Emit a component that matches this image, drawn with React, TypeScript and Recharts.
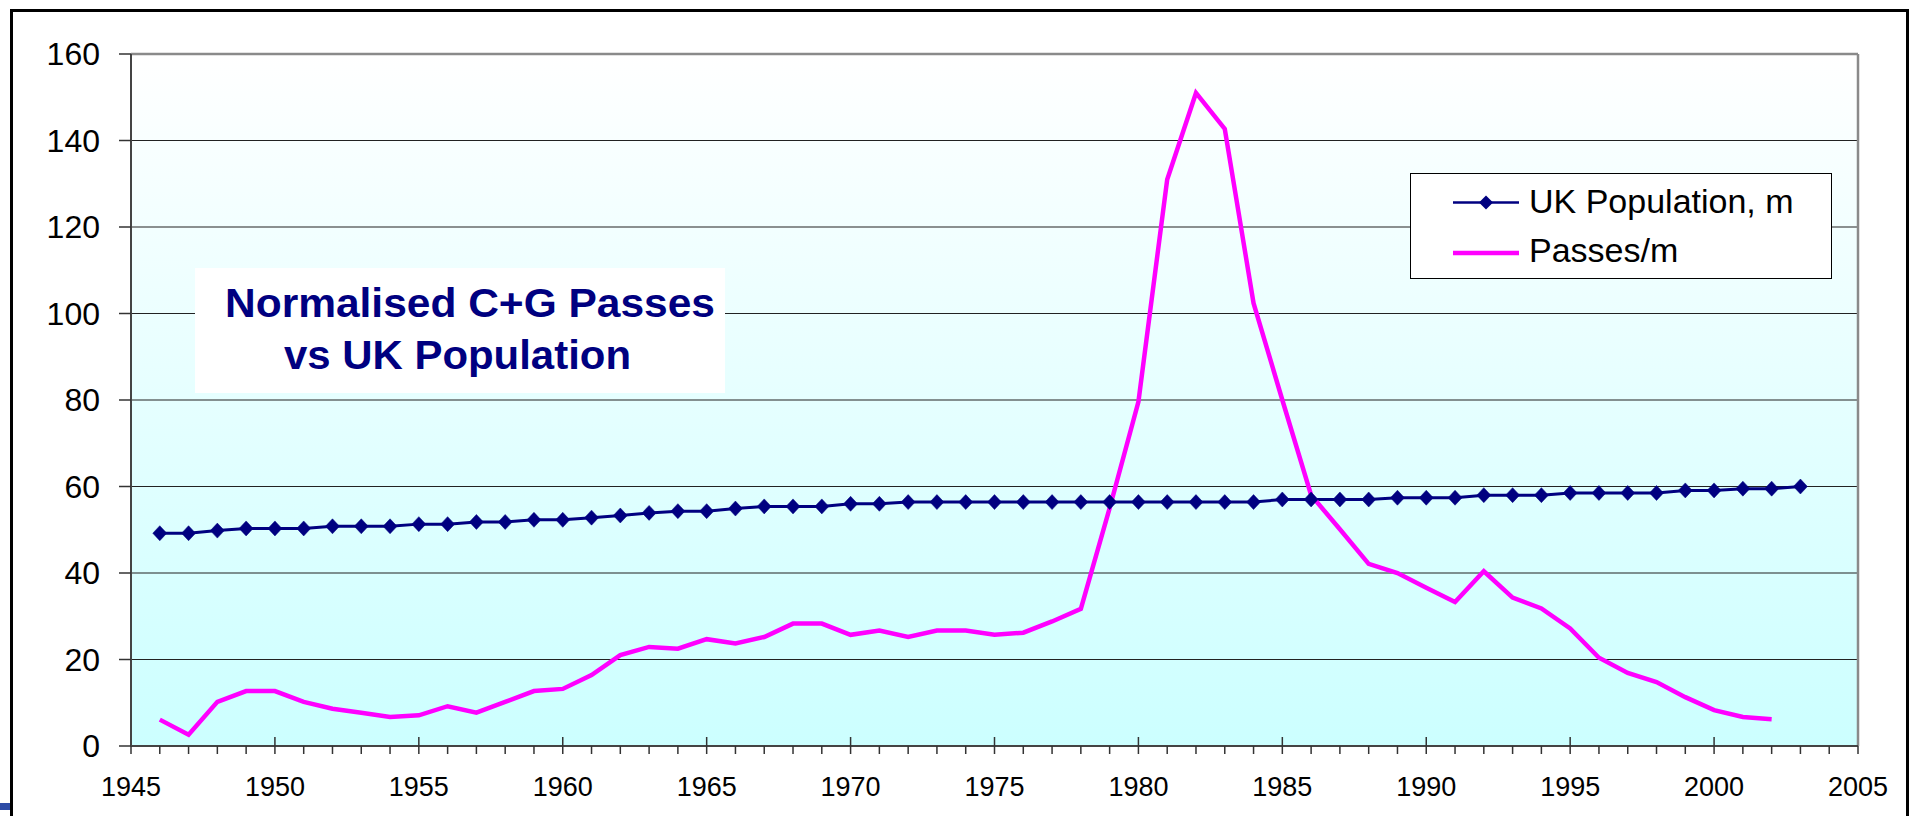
import React from "react";
import {
  LineChart, Line, XAxis, YAxis, CartesianGrid, ReferenceLine,
} from "recharts";

const YEARS = [
  1946, 1947, 1948, 1949, 1950, 1951, 1952, 1953, 1954, 1955,
  1956, 1957, 1958, 1959, 1960, 1961, 1962, 1963, 1964, 1965,
  1966, 1967, 1968, 1969, 1970, 1971, 1972, 1973, 1974, 1975,
  1976, 1977, 1978, 1979, 1980, 1981, 1982, 1983, 1984, 1985,
  1986, 1987, 1988, 1989, 1990, 1991, 1992, 1993, 1994, 1995,
  1996, 1997, 1998, 1999, 2000, 2001, 2002, 2003,
];

// UK population, millions
const POPULATION = [
  49.2, 49.2, 49.8, 50.3, 50.3, 50.3, 50.8, 50.8, 50.8, 51.3,
  51.3, 51.8, 51.8, 52.3, 52.3, 52.8, 53.3, 53.9, 54.3, 54.3,
  54.9, 55.4, 55.4, 55.4, 56.0, 56.0, 56.4, 56.4, 56.4, 56.4,
  56.4, 56.4, 56.4, 56.4, 56.4, 56.4, 56.4, 56.4, 56.4, 57.0,
  57.0, 57.0, 57.0, 57.4, 57.4, 57.4, 58.0, 58.0, 58.0, 58.5,
  58.5, 58.5, 58.5, 59.1, 59.1, 59.5, 59.5, 60.0,
];

// C+G passes per million of population (no figure for 2003)
const PASSES_PER_M = [
  6.1, 2.6, 10.2, 12.7, 12.7, 10.2, 8.6, 7.7, 6.7, 7.1,
  9.2, 7.7, 10.2, 12.7, 13.2, 16.4, 21.0, 22.9, 22.5, 24.7,
  23.7, 25.2, 28.3, 28.3, 25.7, 26.7, 25.2, 26.7, 26.7, 25.7,
  26.2, 28.8, 31.7, 55.0, 79.6, 131.0, 151.0, 142.7, 102.4, 80.0,
  58.0, 50.1, 42.1, 40.0, 36.6, 33.3, 40.4, 34.3, 31.8, 27.2,
  20.4, 16.9, 14.8, 11.3, 8.3, 6.7, 6.2, null,
];

const X_LABEL_TICKS = [1945, 1950, 1955, 1960, 1965, 1970, 1975, 1980, 1985, 1990, 1995, 2000, 2005];
const Y_TICKS = [0, 20, 40, 60, 80, 100, 120, 140, 160];

const SERIES_NAMES = ["UK Population, m", "Passes/m"];
const TITLE_LINES = ["Normalised C+G Passes", "vs UK Population"];

const NAVY = "#000080";
const MAGENTA = "#FF00FF";
const FONT = "'Liberation Sans', Arial, Helvetica, sans-serif";

const rows = YEARS.map((year, i) => ({
  year,
  pop: POPULATION[i],
  passes: PASSES_PER_M[i],
}));

// one tick per year; labels only on the 5-year ones
const allYearTicks: number[] = [];
for (let y = X_LABEL_TICKS[0]; y <= X_LABEL_TICKS[X_LABEL_TICKS.length - 1]; y++) allYearTicks.push(y);

const YearTick = (props: any) => {
  const { x, y, payload } = props;
  const yr = payload.value as number;
  const labelled = X_LABEL_TICKS.includes(yr);
  const crosses = labelled && yr !== 1945 && yr !== 2005;
  return (
    <g>
      <line x1={x} x2={x} y1={crosses ? y - 9 : y} y2={y + 8} stroke="#333" strokeWidth={1.5} />
      {labelled && (
        <text x={x} y={y + 50} textAnchor="middle" fontSize={27} fill="#000" fontFamily={FONT}>
          {yr}
        </text>
      )}
    </g>
  );
};

const Diamond = (props: any) => {
  const { cx, cy } = props;
  if (cx == null || cy == null) return null;
  return (
    <polygon
      points={`${cx},${cy - 7.5} ${cx + 7},${cy} ${cx},${cy + 7.5} ${cx - 7},${cy}`}
      fill={NAVY}
      stroke={NAVY}
      strokeWidth={0.5}
    />
  );
};

export default function App() {
  return (
    <div style={{ position: "absolute", left: 0, top: 0, width: 1910, height: 816, background: "#fff", overflow: "hidden", fontFamily: FONT }}>
      {/* slide frame */}
      <div style={{ position: "absolute", left: 10, top: 9, width: 1899, height: 900, border: "3px solid #000", boxSizing: "border-box" }} />
      <div style={{ position: "absolute", left: 0, top: 803, width: 10, height: 7, background: "#2E4CA6" }} />

      <div style={{ position: "absolute", left: 0, top: 0 }}>
        <LineChart
          width={1910}
          height={816}
          data={rows}
          margin={{ top: 54, right: 52, left: 31, bottom: 10 }}
          style={{ fontFamily: FONT }}
        >
          <defs>
            <linearGradient id="plotBg" x1="0" y1="0" x2="0" y2="1">
              <stop offset="0%" stopColor="#FFFFFF" />
              <stop offset="100%" stopColor="#CCFFFF" />
            </linearGradient>
          </defs>
          <CartesianGrid vertical={false} stroke="#222" strokeWidth={1.2} fill="url(#plotBg)" fillOpacity={1} />
          <XAxis
            dataKey="year"
            type="number"
            domain={[1945, 2005]}
            ticks={allYearTicks}
            interval={0}
            tick={<YearTick />}
            tickLine={false}
            tickSize={0}
            tickMargin={0}
            height={60}
            axisLine={{ stroke: "#444", strokeWidth: 2 }}
          />
          <YAxis
            type="number"
            domain={[0, 160]}
            ticks={Y_TICKS}
            interval={0}
            width={100}
            tickSize={12}
            tickMargin={19}
            tickLine={{ stroke: "#333", strokeWidth: 1.5 }}
            axisLine={{ stroke: "#444", strokeWidth: 2 }}
            tick={{ fill: "#000", fontSize: 32, fontFamily: FONT }}
          />
          <ReferenceLine y={160} stroke="#8a8a8a" strokeWidth={2.5} />
          <ReferenceLine x={2005} stroke="#8a8a8a" strokeWidth={2.5} />
          <Line
            dataKey="pop"
            name={SERIES_NAMES[0]}
            stroke={NAVY}
            strokeWidth={3}
            dot={<Diamond />}
            activeDot={false}
            isAnimationActive={false}
          />
          <Line
            dataKey="passes"
            name={SERIES_NAMES[1]}
            stroke={MAGENTA}
            strokeWidth={4.5}
            dot={false}
            activeDot={false}
            isAnimationActive={false}
          />
        </LineChart>
      </div>

      {/* title box */}
      <div style={{ position: "absolute", left: 195, top: 268, width: 530, height: 125, background: "#fff" }}>
        <svg width={530} height={125} style={{ display: "block" }}>
          <text x={30} y={49} fontSize={40} fontWeight="bold" fill={NAVY} fontFamily={FONT}
            textLength={490} lengthAdjust="spacingAndGlyphs">{TITLE_LINES[0]}</text>
          <text x={89} y={101} fontSize={40} fontWeight="bold" fill={NAVY} fontFamily={FONT}
            textLength={347} lengthAdjust="spacingAndGlyphs">{TITLE_LINES[1]}</text>
        </svg>
      </div>

      {/* legend */}
      <div style={{ position: "absolute", left: 1410, top: 173, width: 422, height: 106, background: "#fff", border: "1.5px solid #000", boxSizing: "border-box" }}>
        <svg width={420} height={104} style={{ display: "block" }}>
          <line x1={42} x2={108} y1={28.5} y2={28.5} stroke={NAVY} strokeWidth={2.5} />
          <polygon points="75,21.5 82,28.5 75,35.5 68,28.5" fill={NAVY} />
          <text x={118} y={38.5} fontSize={34} fill="#000" fontFamily={FONT}>{SERIES_NAMES[0]}</text>
          <line x1={42} x2={108} y1={79} y2={79} stroke={MAGENTA} strokeWidth={4.5} />
          <text x={118} y={88} fontSize={34} fill="#000" fontFamily={FONT}>{SERIES_NAMES[1]}</text>
        </svg>
      </div>
    </div>
  );
}
